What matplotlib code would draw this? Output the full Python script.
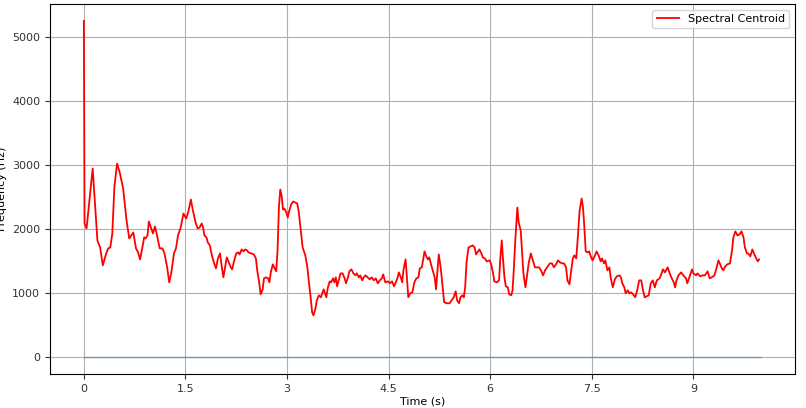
import matplotlib
matplotlib.use('Agg')
import matplotlib.pyplot as plt
from matplotlib.ticker import FuncFormatter

# spectral centroid (time in s, centroid in Hz)
centroid_t = [0.00, 0.01, 0.04, 0.13, 0.20, 0.24, 0.28, 0.33, 0.36, 0.39, 0.42, 0.45, 0.49, 0.53, 0.58,
              0.63, 0.67, 0.70, 0.73, 0.77, 0.80, 0.83, 0.87, 0.89, 0.91, 0.94, 0.96, 0.99, 1.02, 1.05,
              1.08, 1.12, 1.16, 1.19, 1.23, 1.26, 1.29, 1.33, 1.36, 1.39, 1.43, 1.47, 1.51, 1.54, 1.58,
              1.61, 1.65, 1.68, 1.71, 1.74, 1.76, 1.78, 1.81, 1.83, 1.86, 1.89, 1.92, 1.95, 1.98, 2.01,
              2.04, 2.06, 2.09, 2.11, 2.14, 2.17, 2.19, 2.22, 2.25, 2.28, 2.30, 2.33, 2.36, 2.38, 2.41,
              2.43, 2.47, 2.51, 2.54, 2.56, 2.59, 2.61, 2.64, 2.66, 2.69, 2.72, 2.74, 2.76, 2.79, 2.81,
              2.84, 2.86, 2.88, 2.90, 2.92, 2.94, 2.96, 2.99, 3.01, 3.03, 3.06, 3.09, 3.12, 3.15, 3.17,
              3.19, 3.21, 3.23, 3.27, 3.30, 3.32, 3.35, 3.37, 3.39, 3.42, 3.44, 3.47, 3.50, 3.52, 3.54,
              3.56, 3.58, 3.60, 3.63, 3.65, 3.68, 3.70, 3.72, 3.74, 3.77, 3.79, 3.82, 3.85, 3.87, 3.90,
              3.92, 3.95, 3.98, 4.01, 4.03, 4.06, 4.08, 4.11, 4.13, 4.16, 4.19, 4.22, 4.25, 4.28, 4.31,
              4.34, 4.37, 4.40, 4.42, 4.45, 4.49, 4.52, 4.55, 4.58, 4.60, 4.63, 4.65, 4.68, 4.70, 4.72,
              4.75, 4.77, 4.79, 4.82, 4.85, 4.88, 4.91, 4.94, 4.96, 4.99, 5.01, 5.03, 5.05, 5.08, 5.10,
              5.13, 5.16, 5.18, 5.20, 5.24, 5.27, 5.29, 5.32, 5.36, 5.40, 5.43, 5.46, 5.49, 5.51, 5.54,
              5.56, 5.59, 5.61, 5.63, 5.65, 5.68, 5.71, 5.74, 5.77, 5.79, 5.82, 5.84, 5.87, 5.89, 5.92,
              5.95, 5.99, 6.01, 6.04, 6.06, 6.10, 6.13, 6.15, 6.17, 6.19, 6.21, 6.23, 6.26, 6.28, 6.31,
              6.33, 6.35, 6.37, 6.40, 6.42, 6.45, 6.47, 6.49, 6.52, 6.54, 6.57, 6.60, 6.63, 6.66, 6.69,
              6.72, 6.75, 6.78, 6.81, 6.85, 6.88, 6.91, 6.94, 6.97, 7.00, 7.03, 7.06, 7.09, 7.12, 7.14,
              7.17, 7.19, 7.22, 7.24, 7.27, 7.29, 7.32, 7.35, 7.37, 7.39, 7.41, 7.44, 7.46, 7.49, 7.51,
              7.54, 7.57, 7.60, 7.63, 7.65, 7.68, 7.70, 7.73, 7.76, 7.78, 7.81, 7.84, 7.87, 7.91, 7.93,
              7.95, 7.98, 8.00, 8.03, 8.05, 8.08, 8.11, 8.14, 8.17, 8.20, 8.23, 8.25, 8.28, 8.31, 8.34,
              8.37, 8.40, 8.43, 8.46, 8.50, 8.52, 8.55, 8.58, 8.62, 8.65, 8.68, 8.71, 8.73, 8.75, 8.78,
              8.82, 8.85, 8.89, 8.91, 8.95, 8.98, 9.00, 9.04, 9.06, 9.10, 9.13, 9.17, 9.21, 9.24, 9.27,
              9.31, 9.34, 9.37, 9.39, 9.42, 9.44, 9.47, 9.50, 9.54, 9.57, 9.59, 9.62, 9.65, 9.68, 9.71,
              9.74, 9.76, 9.79, 9.81, 9.84, 9.87, 9.90, 9.92, 9.95, 9.97]
centroid_hz = [5250, 2087, 2009, 2944, 1822, 1713, 1433, 1620, 1698, 1713, 1931, 2648, 3022, 2882, 2632,
               2134, 1853, 1900, 1947, 1698, 1636, 1526, 1745, 1869, 1853, 1900, 2118, 2025, 1931, 2040,
               1900, 1698, 1698, 1620, 1402, 1168, 1308, 1620, 1698, 1900, 2025, 2243, 2165, 2259, 2461,
               2290, 2100, 2009, 2025, 2087, 2025, 1900, 1869, 1791, 1745, 1589, 1480, 1386, 1542, 1620,
               1386, 1246, 1433, 1558, 1480, 1402, 1371, 1511, 1620, 1636, 1604, 1682, 1651, 1682, 1667,
               1636, 1620, 1604, 1542, 1355, 1153, 981, 1059, 1231, 1246, 1231, 1168, 1324, 1449, 1402,
               1340, 1667, 2336, 2617, 2523, 2305, 2321, 2259, 2181, 2274, 2383, 2430, 2414, 2399, 2290,
               2103, 1900, 1713, 1589, 1402, 1199, 919, 701, 654, 763, 888, 966, 935, 997, 1059,
               997, 935, 1075, 1184, 1168, 1231, 1168, 1246, 1106, 1231, 1308, 1308, 1231, 1153, 1246,
               1340, 1371, 1308, 1277, 1308, 1246, 1277, 1199, 1246, 1277, 1246, 1215, 1246, 1199, 1231,
               1153, 1199, 1231, 1293, 1168, 1184, 1153, 1184, 1106, 1153, 1231, 1324, 1246, 1168, 1371,
               1526, 1246, 935, 997, 1012, 1168, 1231, 1246, 1386, 1402, 1526, 1651, 1589, 1526, 1558,
               1433, 1324, 1246, 1059, 1604, 1386, 1168, 857, 841, 841, 888, 935, 1028, 888, 841,
               935, 966, 935, 1090, 1480, 1713, 1729, 1745, 1713, 1604, 1651, 1682, 1620, 1558, 1542,
               1495, 1511, 1464, 1324, 1184, 1168, 1199, 1558, 1822, 1511, 1246, 1106, 1090, 981, 966,
               1044, 1402, 1822, 2336, 2103, 1978, 1636, 1308, 1090, 1246, 1480, 1620, 1511, 1402, 1402,
               1402, 1355, 1277, 1355, 1417, 1464, 1464, 1402, 1449, 1511, 1480, 1464, 1464, 1402, 1199,
               1137, 1308, 1542, 1589, 1542, 1822, 2290, 2477, 2336, 2025, 1651, 1636, 1651, 1558, 1511,
               1573, 1651, 1589, 1495, 1542, 1464, 1511, 1355, 1402, 1231, 1090, 1215, 1262, 1277, 1246,
               1153, 1090, 997, 1044, 997, 1012, 981, 935, 1044, 1199, 1199, 1075, 935, 950, 966,
               1153, 1199, 1090, 1199, 1231, 1277, 1371, 1324, 1402, 1308, 1231, 1168, 1090, 1199, 1277,
               1324, 1277, 1231, 1153, 1277, 1371, 1308, 1277, 1308, 1262, 1277, 1277, 1340, 1231, 1246,
               1277, 1386, 1511, 1464, 1386, 1355, 1417, 1449, 1464, 1667, 1869, 1963, 1900, 1916, 1963,
               1869, 1713, 1620, 1620, 1573, 1682, 1604, 1558, 1495, 1526]

# raw waveform drawn on the same axes (amplitude <= 1, looks flat at 0)
wave_t = [0.0, 10.0]
wave_amp = [0.0, 0.0]

x_ticks = [0, 1.5, 3, 4.5, 6, 7.5, 9]
y_ticks = [0, 1000, 2000, 3000, 4000, 5000]

fig = plt.figure(figsize=(8.06, 4.08), dpi=100)
ax = fig.add_axes([50/806, 34/408, 745/806, 370/408])

ax.plot(wave_t, wave_amp, color='C0', alpha=0.5, lw=1)
ax.plot(centroid_t, centroid_hz, color='red', lw=1.3, label='Spectral Centroid')

ax.set_xticks(x_ticks)
ax.xaxis.set_major_formatter(FuncFormatter(lambda v, p: '%g' % v))
ax.set_yticks(y_ticks)
ax.tick_params(labelsize=8, colors='#333333')
ax.grid(True, color='#b0b0b0', lw=0.8)

ax.set_xlabel('Time (s)', fontsize=8, labelpad=2)
ax.set_ylabel('Frequency (Hz)', fontsize=8)
ax.legend(loc='upper right', fontsize=8)

fig.savefig('out.png', dpi=100)
